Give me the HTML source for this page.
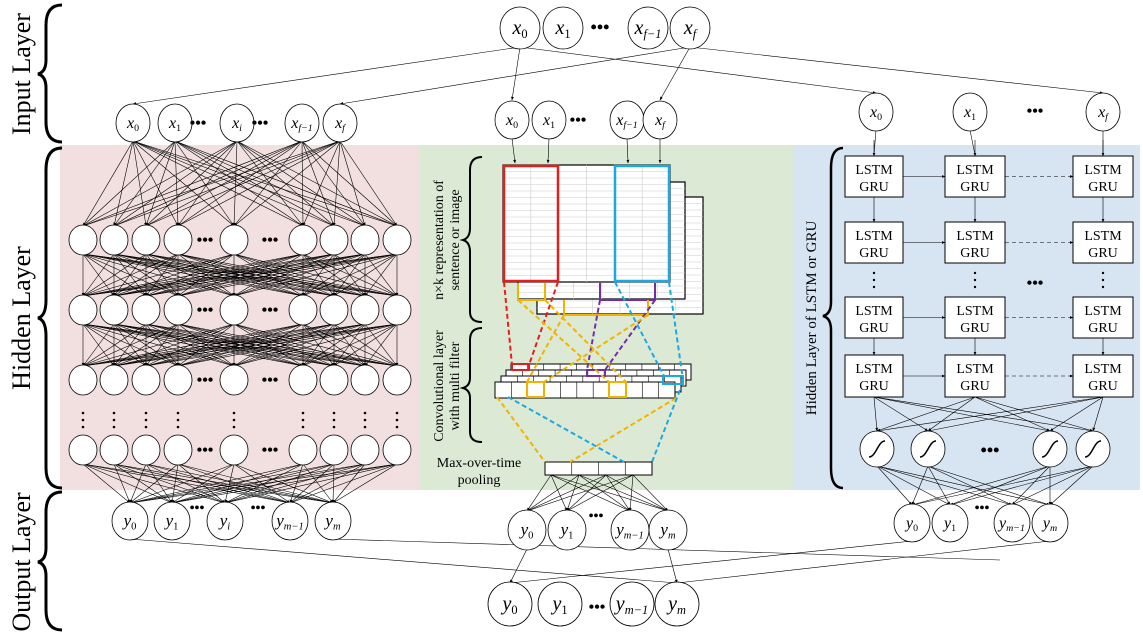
<!DOCTYPE html>
<html><head><meta charset="utf-8"><style>
html,body{margin:0;padding:0;background:#fff;}
svg{display:block;font-family:"Liberation Serif",serif;}
</style></head><body>
<svg id="s" width="1143" height="644" viewBox="0 0 1143 644" xmlns="http://www.w3.org/2000/svg">
<defs>
<marker id="a" viewBox="0 0 10 10" refX="9" refY="5" markerWidth="6" markerHeight="6" orient="auto"><path d="M0,1 L10,5 L0,9z" fill="#000"/></marker>
</defs>
<rect x="60" y="145" width="360" height="345" fill="#f2e0e0"/>
<rect x="420" y="145" width="373" height="345" fill="#dcead5"/>
<rect x="793" y="145" width="347" height="345" fill="#d7e4f2"/>
<g id="lines" stroke="#000" stroke-width="0.6" fill="none"></g>
<g id="nodes"></g>
<g fill="none" stroke="#000" stroke-width="3">
<path d="M62,5 Q46,5 46,25 L46,60 Q46,72 38,74 Q46,76 46,88 L46,122 Q46,142 62,142"/>
<path d="M62,148 Q46,148 46,170 L46,300 Q46,316 38,318 Q46,320 46,336 L46,468 Q46,488 62,488"/>
<path d="M62,492 Q46,492 46,512 L46,548 Q46,560 38,562 Q46,564 46,576 L46,610 Q46,630 62,630"/>
<path d="M482,157 Q470,157 470,170 L470,228 Q470,238 463,240 Q470,242 470,252 L470,312 Q470,322 482,322" stroke-width="2"/>
<path d="M482,328 Q470,328 470,340 L470,378 Q470,386 463,388 Q470,390 470,398 L470,432 Q470,442 482,442" stroke-width="2"/>
<path d="M843,148 Q831,148 831,168 L831,302 Q831,314 823,316 Q831,318 831,330 L831,468 Q831,488 843,488" stroke-width="2.5"/>
</g>
<g font-size="26">
<text transform="translate(30,74) rotate(-90)" text-anchor="middle">Input Layer</text>
<text transform="translate(30,318) rotate(-90)" text-anchor="middle">Hidden Layer</text>
<text transform="translate(30,562) rotate(-90)" text-anchor="middle">Output Layer</text>
</g>
<g font-size="14">
<text transform="translate(443,240) rotate(-90)" text-anchor="middle">n×k representation of</text>
<text transform="translate(459,240) rotate(-90)" text-anchor="middle">sentence or image</text>
<text transform="translate(443,386) rotate(-90)" text-anchor="middle">Convolutional layer</text>
<text transform="translate(459,386) rotate(-90)" text-anchor="middle">with multi filter</text>
<text x="479" y="467" text-anchor="middle">Max-over-time</text>
<text x="479" y="484" text-anchor="middle">pooling</text>
<text transform="translate(816,318) rotate(-90)" text-anchor="middle" font-size="15">Hidden Layer of LSTM or GRU</text>
</g>
<g id="cnn"></g>
<g id="lstm"></g>
</svg>
<script>
var NS="http://www.w3.org/2000/svg";
function el(p,t,a,txt){var e=document.createElementNS(NS,t);for(var k in a)e.setAttribute(k,a[k]);if(txt!==undefined)e.textContent=txt;document.getElementById(p).appendChild(e);return e;}
function ln(x1,y1,x2,y2,arrow,extra){var a={x1:x1,y1:y1,x2:x2,y2:y2};if(arrow)a['marker-end']='url(#a)';if(extra)for(var k in extra)a[k]=extra[k];return el('lines','line',a);}
function node(x,y,rx,ry,lab,sub,fs){el('nodes','ellipse',{cx:x,cy:y,rx:rx,ry:ry,fill:'#fff',stroke:'#000','stroke-width':0.8});
 if(lab){var t=el('nodes','text',{x:x,y:y+fs*0.3,'text-anchor':'middle','font-size':fs,'font-style':'italic'});
 t.textContent=lab;var sp=document.createElementNS(NS,'tspan');sp.setAttribute('font-size',fs*0.62);sp.setAttribute('dy',fs*0.2);sp.setAttribute('font-style',/^[01]$/.test(sub)?'normal':'italic');sp.textContent=sub;t.appendChild(sp);}}
function dots(x,y,fs){el('nodes','text',{x:x,y:y,'text-anchor':'middle','font-size':fs||20,'font-weight':'bold'},'•••');}
function vdots(x,y){for(var i=0;i<3;i++)el('nodes','circle',{cx:x,cy:y+i*7,r:1.3,fill:'#000'});}
var TOPN=[[520,'0'],[563,'1'],[648,'f−1'],[690,'f']];
var Lin=[[133,'0'],[175,'1'],[237,'i'],[302,'f−1'],[340,'f']],LY=123;
var Min=[[512,'0'],[549,'1'],[627,'f−1'],[660,'f']],MY=120;
var Rin=[[876,'0'],[970,'1'],[1103,'f']],RY=112;
ln(520,47,133,104,1);ln(690,47,340,104,1);ln(520,47,512,100,1);ln(690,47,660,100,1);
ln(520,47,876,93,1);ln(690,47,1103,93,1);
var HX=[83,114,146,178,234,303,334,365,397],HR=[240,310,380,450];
Lin.forEach(function(p){HX.forEach(function(h){ln(p[0],LY+18,h,HR[0]-14,1);});});
for(var r=0;r<2;r++)HX.forEach(function(a){HX.forEach(function(b){ln(a,HR[r]+14,b,HR[r+1]-14,1);});});
var Lout=[[130,'0'],[172,'1'],[225,'i'],[290,'m−1'],[333,'m']],OY=521;
HX.forEach(function(h){Lout.forEach(function(o){ln(h,HR[3]+14,o[0],OY-18,1);});});
HX.forEach(function(h){HR.forEach(function(y){node(h,y,14,15);});vdots(h,413);});
HR.forEach(function(y){dots(205,y+5,16);dots(270,y+5,16);});
Min.forEach(function(p,i){var tx=[515,548,628,660][i];ln(p[0],MY+18,tx,163,1);});
var Mout=[[527,'0'],[567,'1'],[630,'m−1'],[668,'m']],MOY=530;
[551,579,606,633].forEach(function(px){Mout.forEach(function(o){ln(px,475,o[0],MOY-19,1);});});
Rin.forEach(function(p,i){var tx=[874,975,1103][i];ln(p[0],RY+18,tx,155,0);});
var SX=[877,928,1050,1093],SY=449;
var RX=[[845,903],[945,1005],[1073,1133]],RYs=[[156,197],[222,263],[297,338],[355,397]];
RX.forEach(function(c){var cx=(c[0]+c[1])/2;ln(cx,140,cx,156,1);ln(cx,197,cx,222,1);ln(cx,338,cx,355,1);
 SX.forEach(function(sx){ln(cx,397,sx,SY-18,1);});});
RYs.forEach(function(rr){var cy=(rr[0]+rr[1])/2;ln(903,cy,945,cy,1);ln(1005,cy,1073,cy,1,{'stroke-dasharray':'4,3'});});
var Rout=[[912,'0'],[950,'1'],[1012,'m−1'],[1050,'m']],ROY=523;
SX.forEach(function(sx){Rout.forEach(function(o){ln(sx,SY+17,o[0],ROY-18,1);});});
var Fout=[[510,'0'],[560,'1'],[632,'m−1'],[677,'m']],FY=604;
ln(527,549,510,583,1);ln(668,549,677,583,1);ln(130,539,677,583,1);ln(333,539,1000,560,0);
ln(912,541,510,583,1);ln(1050,541,677,583,0);
TOPN.forEach(function(p){node(p[0],28,20,21,'x',p[1],20);});dots(600,33,18);
Lin.forEach(function(p){node(p[0],LY,17,19,'x',p[1],16);});dots(198,128,16);dots(260,128,16);
Min.forEach(function(p){node(p[0],MY,17,19,'x',p[1],16);});dots(578,125,16);
Rin.forEach(function(p){node(p[0],RY,17,19,'x',p[1],16);});dots(1035,116,16);
Lout.forEach(function(p){node(p[0],OY,18,19,'y',p[1],17);});dots(197,512,14);dots(258,512,14);
Mout.forEach(function(p){node(p[0],MOY,19,20,'y',p[1],17);});dots(596,520,14);
Rout.forEach(function(p){node(p[0],ROY,18,19,'y',p[1],16);});dots(982,512,14);
Fout.forEach(function(p){node(p[0],FY,22,22,'y',p[1],20);});dots(597,612,16);
SX.forEach(function(sx){node(sx,SY,17,18);el('nodes','path',{d:'M'+(sx-8)+','+(SY+8)+' C'+(sx-1)+','+(SY+8)+' '+(sx+1)+','+(SY-8)+' '+(sx+8)+','+(SY-8),fill:'none',stroke:'#000','stroke-width':1.5});});
dots(990,456,18);
RX.forEach(function(c){RYs.forEach(function(rr){el('lstm','rect',{x:c[0],y:rr[0],width:c[1]-c[0],height:rr[1]-rr[0],fill:'#fff',stroke:'#000','stroke-width':1});
 var cx=(c[0]+c[1])/2;el('lstm','text',{x:cx,y:rr[0]+18,'text-anchor':'middle','font-size':14},'LSTM');el('lstm','text',{x:cx,y:rr[0]+35,'text-anchor':'middle','font-size':14},'GRU');});});
[874,975,1103].forEach(function(x){for(var i=0;i<3;i++)el('lstm','circle',{cx:x,cy:273+i*7,r:1.2,fill:'#000'});});
dots(1035,288,16);
function sheet(x,y,w,h){el('cnn','rect',{x:x,y:y,width:w,height:h,fill:'#fff',stroke:'#000','stroke-width':1.2});
 for(var i=1;i<18;i++)el('cnn','line',{x1:x,y1:y+i*h/18,x2:x+w,y2:y+i*h/18,stroke:'#ccc','stroke-width':0.6});
 for(var j=1;j<6;j++)el('cnn','line',{x1:x+j*w/6,y1:y,x2:x+j*w/6,y2:y+h,stroke:'#ccc','stroke-width':0.6});}
sheet(537,197,166,117);sheet(518,182,167,117);sheet(503,165,167,117);
el('cnn','rect',{x:504,y:166,width:54,height:115,fill:'none',stroke:'#e02020','stroke-width':2.5});
el('cnn','rect',{x:615,y:166,width:54,height:115,fill:'none',stroke:'#1ea8e0','stroke-width':2.5});
el('cnn','path',{d:'M518,283 V300 H545 V283',fill:'none',stroke:'#f0b400','stroke-width':2});
el('cnn','path',{d:'M600,283 V300 H655 V283',fill:'none',stroke:'#7030a0','stroke-width':2});
el('cnn','path',{d:'M564,300 V315 H648 V300',fill:'none',stroke:'#f0b400','stroke-width':2});
function strip(x,y,w,h,n){el('cnn','rect',{x:x,y:y,width:w,height:h,fill:'#fff',stroke:'#000','stroke-width':1});
 for(var i=1;i<n;i++)el('cnn','line',{x1:x+i*w/n,y1:y,x2:x+i*w/n,y2:y+h,stroke:'#000','stroke-width':0.6});}
strip(511,364,180,16,11);strip(506,370,180,16,11);strip(501,376,180,16,11);strip(495,382,180,16,11);
el('cnn','rect',{x:512,y:364,width:17,height:6,fill:'none',stroke:'#e02020','stroke-width':2});
el('cnn','rect',{x:587,y:370,width:18,height:6,fill:'none',stroke:'#7030a0','stroke-width':2});
el('cnn','rect',{x:663,y:376,width:20,height:8,fill:'none',stroke:'#1ea8e0','stroke-width':2});
el('cnn','rect',{x:527,y:382,width:17,height:15,fill:'none',stroke:'#f0b400','stroke-width':2});
el('cnn','rect',{x:609,y:382,width:17,height:15,fill:'none',stroke:'#f0b400','stroke-width':2});
strip(545,462,107,13,4);
function dl(x1,y1,x2,y2,c){el('cnn','line',{x1:x1,y1:y1,x2:x2,y2:y2,stroke:c,'stroke-width':2,'stroke-dasharray':'5,3'});}
var R='#e02020',B='#1ea8e0',Y='#f0b400',P='#7030a0';
dl(504,282,512,365,R);dl(558,282,529,365,R);
dl(615,282,664,376,B);dl(669,282,683,380,B);
dl(600,300,587,370,P);dl(655,300,605,370,P);
dl(518,300,609,382,Y);dl(545,300,626,382,Y);
dl(564,315,527,382,Y);dl(648,315,544,382,Y);
dl(497,397,545,462,Y);dl(676,398,570,462,Y);
dl(508,397,624,462,B);dl(680,390,652,462,B);
</script>
</body></html>
